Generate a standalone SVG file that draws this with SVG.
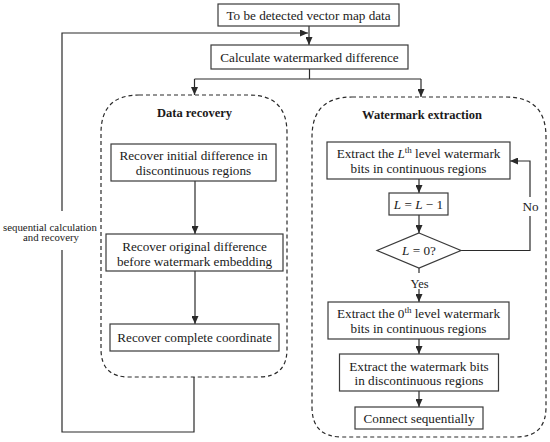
<svg xmlns="http://www.w3.org/2000/svg" width="550" height="442" viewBox="0 0 550 442">
<style>
  text { font-family: "Liberation Serif", "Times New Roman", serif; fill: #1a1a1a; }
  .t { font-size: 13.2px; text-anchor: middle; }
  .h { font-size: 12.5px; font-weight: bold; text-anchor: middle; }
  .s { font-size: 10.8px; text-anchor: middle; }
  .box { fill: #ffffff; stroke: #3a3a3a; stroke-width: 1.2; }
  .dash { fill: none; stroke: #2a2a2a; stroke-width: 1.2; stroke-dasharray: 4 3; }
  .ln { fill: none; stroke: #2a2a2a; stroke-width: 1.2; }
  .arr { fill: none; stroke: #2a2a2a; stroke-width: 1.2; marker-end: url(#ah); }
  .i { font-style: italic; }
</style>
<defs>
  <marker id="ah" markerUnits="userSpaceOnUse" markerWidth="8" markerHeight="7" refX="8" refY="3.5" orient="auto">
    <path d="M0,0 L8,3.5 L0,7 z" fill="#2a2a2a"/>
  </marker>
</defs>

<g id="group-data-recovery">
  <path class="dash" d="M139,95 H249 Q287,95 287,133 V349 Q287,377 259,377 H129 Q101,377 101,349 V133 Q101,95 139,95 Z"/>
  <text class="h" x="194.5" y="116.5">Data recovery</text>
</g>
<g id="group-watermark-extraction">
  <path class="dash" d="M352,97 H506 Q546,97 546,137 V407 Q546,437 516,437 H342 Q312,437 312,407 V137 Q312,97 352,97 Z"/>
  <text class="h" x="422" y="119">Watermark extraction</text>
</g>

<g id="connectors">
  <line class="arr" x1="309" y1="26" x2="309" y2="45"/>
  <path class="ln" d="M194,377 V432 H62 V250"/>
  <path class="arr" d="M62,211 V33 H308"/>
  <path class="ln" d="M309.5,69 V79"/>
  <path class="ln" d="M194.5,79 H421"/>
  <line class="arr" x1="194.5" y1="79" x2="194.5" y2="95"/>
  <line class="arr" x1="421" y1="79" x2="421" y2="97"/>
  <line class="arr" x1="195" y1="181" x2="195" y2="234"/>
  <line class="arr" x1="195" y1="271" x2="195" y2="324"/>
  <line class="arr" x1="419" y1="179" x2="419" y2="193"/>
  <line class="arr" x1="419" y1="215" x2="419" y2="233"/>
  <line class="ln" x1="419" y1="268" x2="419" y2="273"/>
  <line class="arr" x1="419" y1="289" x2="419" y2="302"/>
  <path class="ln" d="M461,250.5 H530 V216"/>
  <path class="arr" d="M530,197 V161 H510"/>
  <line class="arr" x1="419" y1="339" x2="419" y2="354"/>
  <line class="arr" x1="419" y1="391" x2="419" y2="407"/>
  <text class="s" x="50" y="230.5">sequential calculation</text>
  <text class="s" x="51" y="241">and recovery</text>
  <text class="t" x="530.5" y="210.5">No</text>
  <text class="t" x="419.5" y="287.5" style="font-size:12.5px">Yes</text>
</g>

<g id="node-input">
  <rect class="box" x="218" y="4" width="181" height="22"/>
  <text class="t" x="308.5" y="19.5">To be detected vector map data</text>
</g>
<g id="node-calc">
  <rect class="box" x="211" y="45" width="197" height="24"/>
  <text class="t" x="309.5" y="61.5">Calculate watermarked difference</text>
</g>

<g id="node-recover-initial">
  <rect class="box" x="111" y="144" width="165" height="37"/>
  <text class="t" x="193.5" y="160">Recover initial difference in</text>
  <text class="t" x="193.5" y="175">discontinuous regions</text>
</g>
<g id="node-recover-original">
  <rect class="box" x="106" y="234" width="177" height="37"/>
  <text class="t" x="194.5" y="250.5">Recover original difference</text>
  <text class="t" x="194.5" y="265.5">before watermark embedding</text>
</g>
<g id="node-recover-complete">
  <rect class="box" x="110" y="324" width="169" height="27"/>
  <text class="t" x="194.5" y="342">Recover complete coordinate</text>
</g>

<g id="node-extract-L">
  <rect class="box" x="327" y="142" width="183" height="37"/>
  <text class="t" x="418.5" y="157.5">Extract the <tspan class="i">L</tspan><tspan font-size="9" dy="-5">th</tspan><tspan dy="5"> level watermark</tspan></text>
  <text class="t" x="418.5" y="172.5">bits in continuous regions</text>
</g>
<g id="node-decrement">
  <rect class="box" x="389" y="193" width="59" height="22"/>
  <text class="t" x="418.5" y="208.5"><tspan class="i">L</tspan> = <tspan class="i">L</tspan> − 1</text>
</g>
<g id="node-check">
  <polygon class="box" points="419,233 461,250.5 419,268 377,250.5"/>
  <text class="t" x="419" y="255"><tspan class="i">L</tspan> = 0?</text>
</g>
<g id="node-extract-0">
  <rect class="box" x="328" y="302" width="181" height="37"/>
  <text class="t" x="418.5" y="317.5">Extract the 0<tspan font-size="9" dy="-5">th</tspan><tspan dy="5"> level watermark</tspan></text>
  <text class="t" x="418.5" y="332.5">bits in continuous regions</text>
</g>
<g id="node-extract-disc">
  <rect class="box" x="339.5" y="354" width="159" height="37"/>
  <text class="t" x="419" y="370.5">Extract the watermark bits</text>
  <text class="t" x="419" y="385">in discontinuous regions</text>
</g>
<g id="node-connect">
  <rect class="box" x="355" y="407" width="128" height="22"/>
  <text class="t" x="419" y="422.5">Connect sequentially</text>
</g>
</svg>
